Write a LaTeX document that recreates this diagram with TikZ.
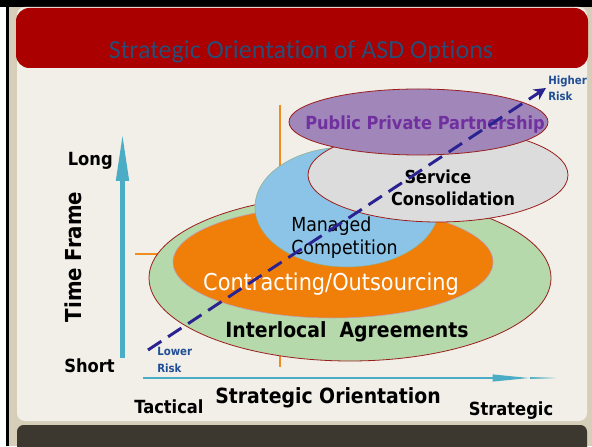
\documentclass[tikz,border=0pt]{standalone}
\usepackage{fontspec}
\setmainfont{DejaVu Sans Condensed}
\newfontfamily\titlefont[Ligatures=NoCommon]{Carlito}
\usetikzlibrary{arrows.meta,calc}
\definecolor{titlered}{RGB}{170,0,0}
\definecolor{titleblue}{RGB}{38,78,118}
\definecolor{outerbeige}{RGB}{214,206,184}
\definecolor{panel}{RGB}{242,239,232}
\definecolor{darkbar}{RGB}{60,56,48}
\definecolor{axiscyan}{RGB}{75,172,198}
\definecolor{guide}{RGB}{242,140,30}
\definecolor{rimred}{RGB}{155,30,30}
\definecolor{ilagreen}{RGB}{181,217,170}
\definecolor{contorange}{RGB}{240,127,9}
\definecolor{mgdblue}{RGB}{140,196,232}
\definecolor{servgray}{RGB}{220,220,220}
\definecolor{ppppurple}{RGB}{160,134,185}
\definecolor{ppptext}{RGB}{112,48,160}
\definecolor{riskline}{RGB}{42,34,144}
\definecolor{risktext}{RGB}{31,78,150}
\tikzset{
>=Stealth,
label text/.style={inner sep=0pt,anchor=base},
axis label/.style={label text,font=\bfseries\fontsize{13.6}{15}\selectfont},
risk label/.style={label text,anchor=base west,text=risktext,font=\bfseries\fontsize{8.5}{9}\selectfont},
option/.style={draw=rimred,line width=0.6pt},
guide line/.style={draw=guide,line width=0.8pt}}

\begin{document}
\begin{tikzpicture}[x=0.75pt,y=0.75pt]
\useasboundingbox (0,0) rectangle (592,446);

% slide frame
\fill[white] (0,0) rectangle (592,446);
\fill[outerbeige] (8,0) rectangle (592,439);
\fill[black] (0,439) rectangle (592,446);
\fill[black] (6,0) rectangle (9,446);
\fill[panel,rounded corners=6] (17,25) rectangle (587,439);
\fill[darkbar,rounded corners=5] (17,-10) rectangle (587,21);
\fill[titlered,rounded corners=10] (16,378) rectangle (588,438);
\node[label text,text=titleblue,font=\titlefont\fontsize{19.5}{22}\selectfont] (title) at (301,387) {Strategic Orientation of ASD Options};

% guide lines
\draw[guide line] (280,79) -- (280,341);
\draw[guide line] (135,192) -- (430,192);

% options
\draw[option,fill=ilagreen] (350,168) ellipse [x radius=201, y radius=83];
\draw[draw=black!25!violet!40,fill=contorange] (333,184) ellipse [x radius=160, y radius=56];
\draw[draw=ilagreen!80!black,fill=mgdblue] (347,239) ellipse [x radius=92, y radius=60];
\draw[option,fill=servgray] (438,271) ellipse [x radius=130, y radius=47];
\draw[option,fill=ppppurple] (418.5,324) ellipse [x radius=129.5, y radius=33];

\node[label text,text=ppptext,font=\bfseries\fontsize{13.5}{15}\selectfont] (ppp) at (425,316) {Public Private Partnership};
\node[label text,font=\bfseries\fontsize{13.4}{15}\selectfont] (serv1) at (438,262) {Service};
\node[label text,font=\bfseries\fontsize{13.4}{15}\selectfont] (serv2) at (453,240) {Consolidation};
\node[label text,anchor=base west,font=\fontsize{14.5}{16}\selectfont] (mgd1) at (291,214) {Managed};
\node[label text,anchor=base west,font=\fontsize{14.5}{16}\selectfont] (mgd2) at (291,191) {Competition};
\node[label text,text=white,font=\fontsize{17.4}{19}\selectfont] (cont) at (331,155) {Contracting/Outsourcing};
\node[label text,font=\bfseries\fontsize{15.7}{17}\selectfont] (ila) at (347,108) {Interlocal\ \ Agreements};

% axes
\coordinate (vbot) at (122.5,88);
\coordinate (vtop) at (122.5,313);
\draw[axiscyan,line width=3.6pt,-{Triangle[length=36pt,width=9pt]}] (vbot) -- (vtop);
\coordinate (hleft) at (143,68);
\coordinate (hright) at (530,68);
\draw[axiscyan,line width=1.5pt,-{Triangle[length=28pt,width=5pt]}] (hleft) -- (hright);
\shade[left color=axiscyan,right color=panel] (530,67.2) rectangle (557,68.8);

\node[axis label,anchor=base east] (long) at (113,280) {Long};
\node[axis label,anchor=base east] (short) at (115,74) {Short};
\node[label text,anchor=center,rotate=90,font=\bfseries\fontsize{16.5}{18}\selectfont] (time) at (73,189) {Time Frame};
\node[axis label] (tact) at (169,32) {Tactical};
\node[label text,font=\bfseries\fontsize{15.7}{17}\selectfont] (orient) at (328,42) {Strategic Orientation};
\node[axis label] (strat) at (511,31) {Strategic};

% risk direction
\node[risk label] (lower1) at (157,90) {Lower};
\node[risk label] (lower2) at (157,74) {Risk};
\node[risk label] (higher1) at (548,361) {Higher};
\node[risk label] (higher2) at (548,345) {Risk};
\coordinate (lorisk) at (148,96);
\coordinate (hirisk) at (546,358);
\draw[riskline,line width=2.2pt,dash pattern=on 12pt off 6pt,-{Stealth[length=9pt,width=9pt]}] (lorisk) -- (hirisk);

\end{tikzpicture}
\end{document}
